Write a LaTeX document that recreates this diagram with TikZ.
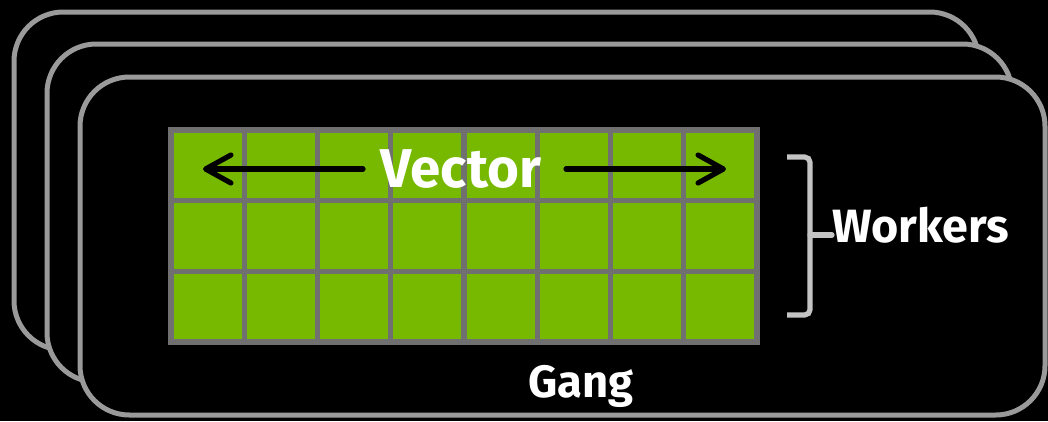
\documentclass[tikz,border=0pt]{standalone}
\usepackage{fontspec}
\setmainfont{Fira Sans}
\usetikzlibrary{arrows.meta}
\definecolor{nvgreen}{HTML}{76B900}
\definecolor{gridgray}{HTML}{707070}
\definecolor{boxgray}{HTML}{9A9A9A}
\definecolor{brgray}{HTML}{C4C4C4}
\tikzset{
  gangbox/.style={draw=boxgray, fill=black, line width=3.75pt, rounded corners=37pt},
  gridline/.style={draw=gridgray, line width=3.9pt, line cap=rect},
  vecarrow/.style={draw=black, line width=3.9pt, line cap=round,
    -{Straight Barb[length=19pt,width=21pt,line cap=round,round]}},
  bracket/.style={draw=brgray, line width=3.9pt, rounded corners=4pt},
  lbl/.style={text=white, font=\bfseries, inner sep=0pt, anchor=base}
}
\begin{document}
\begin{tikzpicture}[x=0.75pt,y=-0.75pt]
\useasboundingbox (0,0) rectangle (1048,421);
\fill[black] (0,0) rectangle (1048,421);
% stacked gangs
\path[gangbox] (14,12) rectangle (979,350);
\path[gangbox] (47,44) rectangle (1012,382);
\path[gangbox] (80,77) rectangle (1045,415);
% grid of workers x vector
\fill[nvgreen] (171,130) rectangle (757,342);
\foreach \i in {0,...,8} {
  \draw[gridline] ({171+\i*73.25},130) -- ({171+\i*73.25},342);
}
\foreach \j in {0,...,3} {
  \draw[gridline] (171,{130+\j*70.67}) -- (757,{130+\j*70.67});
}
% vector label and arrows
\node[lbl, font=\bfseries\fontsize{41}{41}\selectfont] (vec) at (461,187) {Vector};
\coordinate (lstart) at (363,169);
\coordinate (ltip) at (203,169);
\coordinate (rstart) at (566,169);
\coordinate (rtip) at (726,169);
\draw[vecarrow] (lstart) -- (ltip);
\draw[vecarrow] (rstart) -- (rtip);
% workers bracket
\coordinate (btop) at (787,157);
\coordinate (bbot) at (787,315);
\coordinate (bnub) at (832,235);
\draw[bracket] (btop) -- (810,157) -- (810,315) -- (bbot);
\draw[brgray, line width=3.9pt, line cap=round] (810,235) .. controls (814,235) .. (bnub);
\node[lbl, anchor=base west, font=\bfseries\fontsize{35}{35}\selectfont] (workers) at (832,242) {Workers};
% gang label
\node[lbl, font=\bfseries\fontsize{34}{34}\selectfont] (gang) at (581,397) {Gang};
\end{tikzpicture}
\end{document}
